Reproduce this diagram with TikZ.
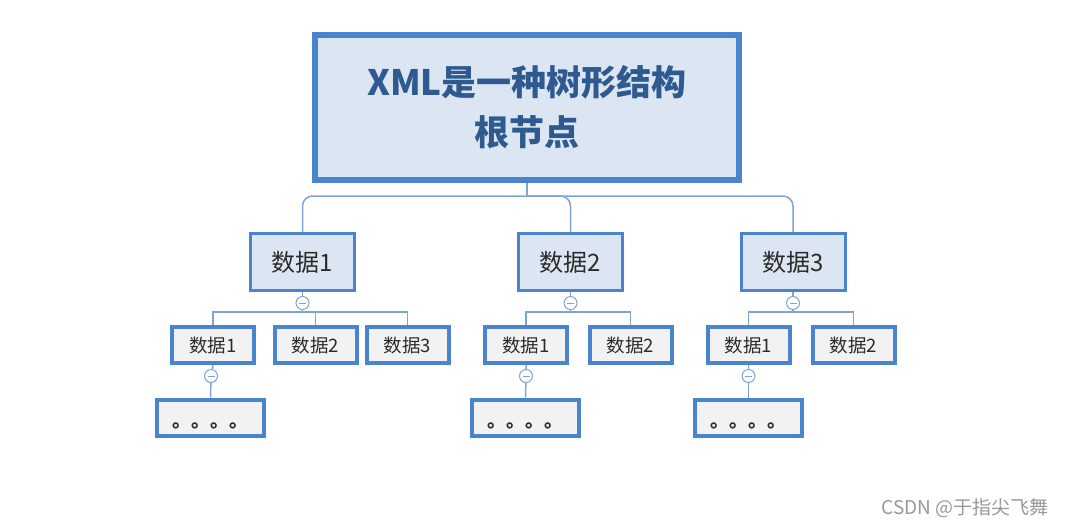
\documentclass[tikz,border=0pt]{standalone}
\usepackage{fontspec}
\setmainfont{Noto Sans CJK SC}
\usetikzlibrary{backgrounds}
\definecolor{boxblue}{HTML}{4A84CF}
\definecolor{linkblue}{HTML}{7EA4D8}
\definecolor{rootfill}{HTML}{DCE6F2}
\definecolor{leaffill}{HTML}{F2F2F2}
\definecolor{roottext}{HTML}{2E5A8F}
\definecolor{bodytext}{HTML}{2B2B2B}

\begin{document}
\begin{tikzpicture}
[every node/.style={inner sep=0pt},
 rootbox/.style={rectangle, minimum width=424pt, minimum height=145pt, fill=rootfill, line width=6pt, draw=boxblue, align=center, font=\fontsize{35}{50}\selectfont\bfseries, text=roottext},
 databox/.style={rectangle, minimum width=104pt, minimum height=57pt, fill=rootfill, line width=3pt, draw=boxblue, font=\fontsize{24}{26}\selectfont, text=bodytext},
 itembox/.style={rectangle, minimum width=82pt, minimum height=36pt, fill=leaffill, line width=4pt, draw=boxblue, font=\fontsize{18.5}{20}\selectfont, text=bodytext},
 dotbox/.style={rectangle, minimum width=107pt, minimum height=36pt, fill=leaffill, line width=4pt, draw=boxblue, font=\fontsize{19}{20}\selectfont\bfseries, text=bodytext},
 minus/.style={circle, minimum size=13pt, fill=white, line width=1pt, draw=linkblue,
   path picture={\draw [line width=1pt, color=linkblue] ([xshift=-3.5pt]path picture bounding box.center) -- ([xshift=3.5pt]path picture bounding box.center);}},
 link/.style={line width=1.5pt, color=linkblue}]
\useasboundingbox (0pt, 0pt) rectangle (1067pt, -528pt);
\node (root) [rootbox] at (527.0pt, -107.5pt) {XML是一种树形结构\\根节点};
\node (a) [databox] at (302.5pt, -262.0pt) {数据1};
\node (b) [databox] at (570.5pt, -262.0pt) {数据2};
\node (c) [databox] at (793.0pt, -262.0pt) {数据3};
\node (ma) [minus] at (302.5pt, -303.0pt) {};
\node (mb) [minus] at (570.5pt, -303.0pt) {};
\node (mc) [minus] at (793.0pt, -303.0pt) {};
\node (a1) [itembox] at (213.0pt, -345.0pt) {数据1};
\node (a2) [itembox] at (315.5pt, -345.0pt) {数据2};
\node (a3) [itembox] at (407.5pt, -345.0pt) {数据3};
\node (b1) [itembox] at (526.0pt, -345.0pt) {数据1};
\node (b2) [itembox] at (630.5pt, -345.0pt) {数据2};
\node (c1) [itembox] at (748.5pt, -345.0pt) {数据1};
\node (c2) [itembox] at (853.5pt, -345.0pt) {数据2};
\node (ma1) [minus] at (211.0pt, -376.0pt) {};
\node (mb1) [minus] at (526.0pt, -376.0pt) {};
\node (mc1) [minus] at (748.5pt, -376.0pt) {};
\node (ad) [dotbox] at (210.5pt, -417.5pt) {\raisebox{-9.5pt}[0pt][0pt]{。。。。}};
\node (bd) [dotbox] at (525.5pt, -417.5pt) {\raisebox{-9.5pt}[0pt][0pt]{。。。。}};
\node (cd) [dotbox] at (748.5pt, -417.5pt) {\raisebox{-9.5pt}[0pt][0pt]{。。。。}};
\node (wm) [font=\fontsize{19}{20}\selectfont, text=black!40] at (965.0pt, -508.0pt) {CSDN @于指尖飞舞};
\begin{scope}[on background layer]
\draw [link] (root.south) -- ++(0pt, -13pt) coordinate (rj);
\draw [link, rounded corners=10pt] (a.north) |- (rj) -| (c.north);
\draw [link, rounded corners=10pt] (rj) -| (b.north);
\draw [link] (a.south) -- (ma);
\draw [link] (ma) -- ++(0pt, -9pt) coordinate (aj);
\draw [link] (a1.north) |- (aj) -| (a3.north);
\draw [link] (aj) -| (a2.north);
\draw [link] (b.south) -- (mb);
\draw [link] (mb) -- ++(0pt, -9pt) coordinate (bj);
\draw [link] (b1.north) |- (bj) -| (b2.north);
\draw [link] (c.south) -- (mc);
\draw [link] (mc) -- ++(0pt, -9pt) coordinate (cj);
\draw [link] (c1.north) |- (cj) -| (c2.north);
\draw [link] (a1.south) -- (ma1) -- (ad.north);
\draw [link] (b1.south) -- (mb1) -- (bd.north);
\draw [link] (c1.south) -- (mc1) -- (cd.north);
\end{scope}
\end{tikzpicture}
\end{document}
